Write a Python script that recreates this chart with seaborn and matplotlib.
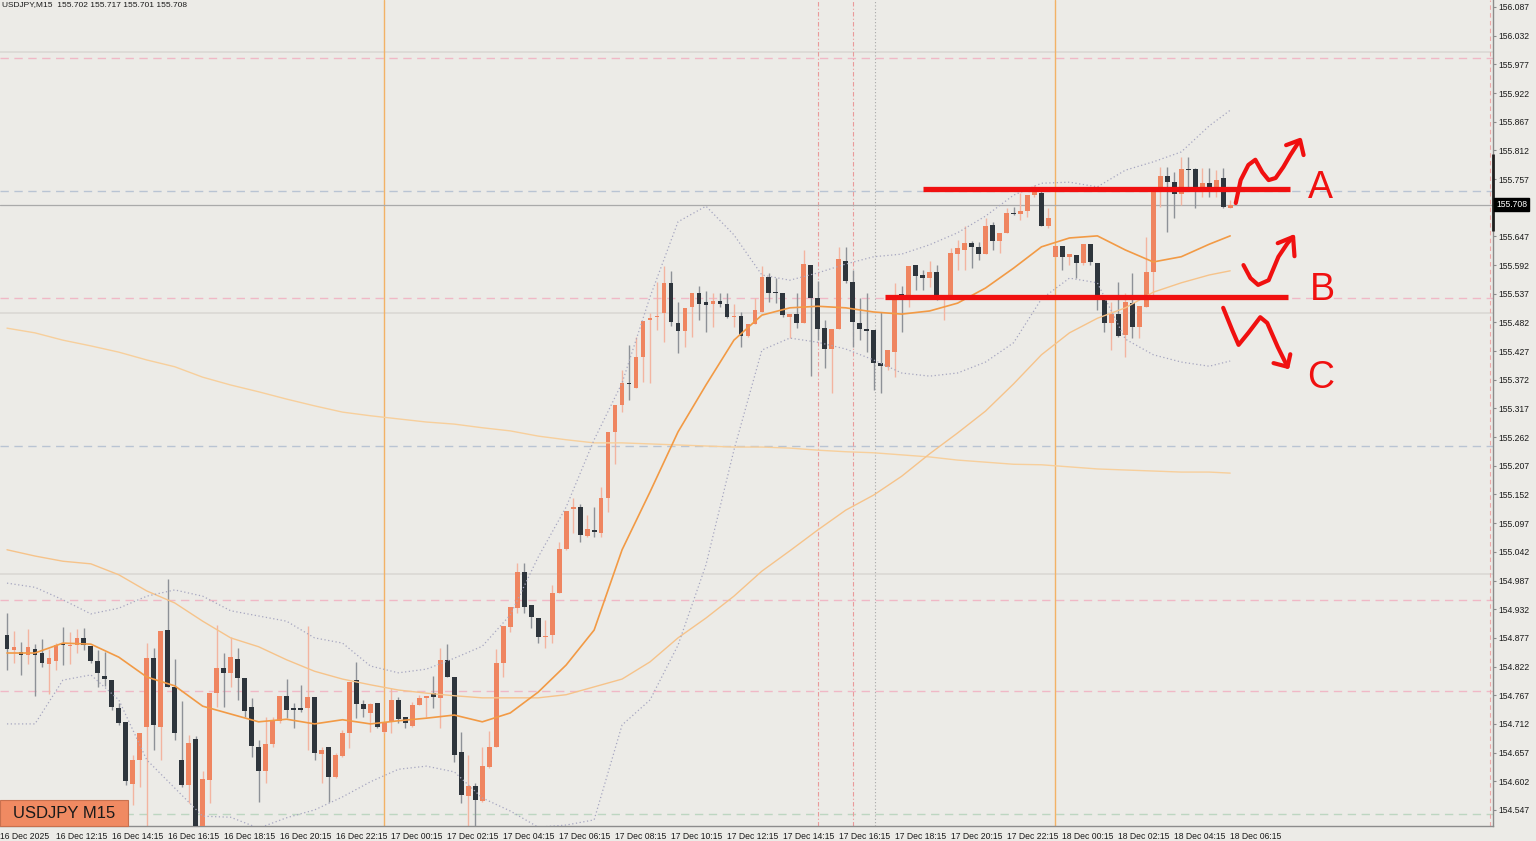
import numpy as np
import pandas as pd
import matplotlib
matplotlib.use("Agg")
import matplotlib.pyplot as plt
from matplotlib.patches import Rectangle
import seaborn as sns


# ---------------------------------------------------------------- data
# USDJPY M15, bar 0 = 16 Dec 10:30, bar 175 = 18 Dec 06:15
opens = [
    154.883, 154.854, 154.850, 154.844, 154.856, 154.848, 154.827, 154.833, 154.863, 154.862,
    154.863, 154.877, 154.861, 154.833, 154.804, 154.796, 154.742, 154.716, 154.597, 154.643,
    154.706, 154.838, 154.706, 154.892, 154.783, 154.643, 154.595, 154.683, 154.514, 154.604,
    154.771, 154.819, 154.810, 154.836, 154.800, 154.744, 154.668, 154.622, 154.673, 154.718,
    154.766, 154.742, 154.742, 154.742, 154.764, 154.654, 154.668, 154.610, 154.650, 154.695,
    154.796, 154.750, 154.733, 154.752, 154.697, 154.716, 154.758, 154.725, 154.708, 154.748,
    154.762, 154.771, 154.762, 154.835, 154.802, 154.658, 154.574, 154.593, 154.564, 154.629,
    154.668, 154.829, 154.898, 154.934, 155.003, 154.940, 154.915, 154.879, 154.883, 154.963,
    155.047, 155.124, 155.128, 155.072, 155.084, 155.078, 155.145, 155.272, 155.324, 155.366,
    155.356, 155.416, 155.487, 155.493, 155.500, 155.558, 155.481, 155.466, 155.512, 155.538,
    155.521, 155.517, 155.523, 155.517, 155.492, 155.494, 155.456, 155.479, 155.502, 155.569,
    155.539, 155.538, 155.492, 155.498, 155.481, 155.592, 155.529, 155.471, 155.431, 155.469,
    155.600, 155.560, 155.481, 155.469, 155.467, 155.404, 155.397, 155.425, 155.537, 155.531,
    155.592, 155.573, 155.567, 155.579, 155.531, 155.531, 155.613, 155.621, 155.634, 155.627,
    155.613, 155.669, 155.638, 155.653, 155.692, 155.690, 155.696, 155.726, 155.730, 155.667,
    155.608, 155.629, 155.608, 155.611, 155.596, 155.632, 155.596, 155.525, 155.481, 155.498,
    155.458, 155.519, 155.473, 155.512, 155.579, 155.738, 155.763, 155.751, 155.728, 155.776,
    155.776, 155.742, 155.749, 155.742, 155.759, 155.702]

highs = [
    154.925, 154.890, 154.869, 154.894, 154.865, 154.875, 154.856, 154.867, 154.898, 154.888,
    154.894, 154.896, 154.861, 154.854, 154.850, 154.796, 154.752, 154.716, 154.652, 154.695,
    154.867, 154.858, 154.890, 154.990, 154.836, 154.756, 154.691, 154.689, 154.622, 154.771,
    154.902, 154.848, 154.879, 154.858, 154.800, 154.762, 154.681, 154.725, 154.725, 154.766,
    154.798, 154.752, 154.787, 154.900, 154.764, 154.668, 154.668, 154.656, 154.700, 154.792,
    154.831, 154.758, 154.752, 154.752, 154.716, 154.781, 154.764, 154.725, 154.754, 154.768,
    154.766, 154.804, 154.858, 154.865, 154.802, 154.697, 154.652, 154.599, 154.668, 154.699,
    154.856, 154.900, 154.936, 155.021, 155.021, 154.940, 154.915, 154.911, 154.978, 155.061,
    155.120, 155.145, 155.134, 155.113, 155.128, 155.166, 155.272, 155.324, 155.391, 155.439,
    155.454, 155.485, 155.500, 155.560, 155.590, 155.581, 155.521, 155.510, 155.538, 155.552,
    155.542, 155.538, 155.538, 155.538, 155.517, 155.502, 155.479, 155.529, 155.590, 155.577,
    155.567, 155.538, 155.498, 155.538, 155.621, 155.592, 155.561, 155.487, 155.469, 155.627,
    155.627, 155.583, 155.529, 155.538, 155.467, 155.502, 155.429, 155.558, 155.552, 155.590,
    155.592, 155.583, 155.600, 155.592, 155.533, 155.625, 155.640, 155.667, 155.638, 155.636,
    155.682, 155.675, 155.653, 155.701, 155.703, 155.730, 155.726, 155.746, 155.736, 155.701,
    155.629, 155.629, 155.613, 155.611, 155.632, 155.632, 155.596, 155.525, 155.521, 155.560,
    155.538, 155.577, 155.513, 155.646, 155.736, 155.780, 155.780, 155.770, 155.799, 155.799,
    155.778, 155.778, 155.778, 155.774, 155.778, 155.717]

lows = [
    154.815, 154.829, 154.806, 154.827, 154.766, 154.821, 154.769, 154.815, 154.825, 154.827,
    154.848, 154.854, 154.829, 154.783, 154.785, 154.739, 154.710, 154.595, 154.556, 154.591,
    154.514, 154.662, 154.643, 154.783, 154.681, 154.591, 154.560, 154.512, 154.512, 154.560,
    154.744, 154.744, 154.783, 154.758, 154.725, 154.648, 154.562, 154.599, 154.668, 154.714,
    154.723, 154.704, 154.735, 154.662, 154.643, 154.599, 154.562, 154.608, 154.648, 154.666,
    154.723, 154.725, 154.697, 154.704, 154.695, 154.695, 154.714, 154.704, 154.706, 154.748,
    154.725, 154.742, 154.704, 154.802, 154.639, 154.560, 154.512, 154.512, 154.562, 154.627,
    154.668, 154.802, 154.888, 154.925, 154.925, 154.896, 154.867, 154.858, 154.867, 154.963,
    155.045, 155.078, 155.061, 155.070, 155.070, 155.070, 155.118, 155.210, 155.310, 155.333,
    155.356, 155.368, 155.366, 155.468, 155.445, 155.475, 155.423, 155.435, 155.454, 155.487,
    155.464, 155.473, 155.512, 155.490, 155.473, 155.435, 155.454, 155.479, 155.502, 155.521,
    155.519, 155.492, 155.452, 155.471, 155.481, 155.379, 155.448, 155.395, 155.347, 155.469,
    155.558, 155.435, 155.448, 155.425, 155.352, 155.347, 155.391, 155.377, 155.464, 155.512,
    155.544, 155.544, 155.550, 155.525, 155.487, 155.531, 155.583, 155.583, 155.586, 155.602,
    155.613, 155.621, 155.615, 155.653, 155.688, 155.679, 155.684, 155.723, 155.667, 155.663,
    155.608, 155.583, 155.592, 155.567, 155.592, 155.592, 155.506, 155.464, 155.429, 155.454,
    155.416, 155.452, 155.452, 155.512, 155.531, 155.703, 155.655, 155.682, 155.707, 155.742,
    155.701, 155.723, 155.723, 155.723, 155.701, 155.701]

closes = [
    154.856, 154.860, 154.844, 154.860, 154.844, 154.829, 154.838, 154.863, 154.863, 154.864,
    154.877, 154.863, 154.833, 154.810, 154.798, 154.744, 154.714, 154.603, 154.643, 154.695,
    154.838, 154.710, 154.890, 154.783, 154.695, 154.595, 154.675, 154.514, 154.606, 154.771,
    154.819, 154.810, 154.840, 154.800, 154.737, 154.670, 154.622, 154.673, 154.718, 154.766,
    154.739, 154.739, 154.739, 154.764, 154.656, 154.662, 154.610, 154.652, 154.695, 154.792,
    154.750, 154.740, 154.750, 154.706, 154.716, 154.758, 154.721, 154.714, 154.748, 154.762,
    154.766, 154.764, 154.835, 154.802, 154.652, 154.576, 154.593, 154.566, 154.631, 154.668,
    154.829, 154.900, 154.936, 155.003, 154.936, 154.917, 154.879, 154.881, 154.963, 155.047,
    155.120, 155.128, 155.074, 155.086, 155.080, 155.145, 155.272, 155.324, 155.366, 155.364,
    155.416, 155.485, 155.491, 155.494, 155.558, 155.483, 155.466, 155.510, 155.538, 155.517,
    155.516, 155.523, 155.517, 155.492, 155.494, 155.456, 155.479, 155.506, 155.569, 155.538,
    155.538, 155.496, 155.498, 155.481, 155.594, 155.529, 155.469, 155.431, 155.469, 155.604,
    155.561, 155.483, 155.469, 155.466, 155.404, 155.398, 155.429, 155.531, 155.531, 155.590,
    155.571, 155.567, 155.579, 155.531, 155.533, 155.615, 155.625, 155.634, 155.627, 155.613,
    155.667, 155.638, 155.653, 155.692, 155.690, 155.696, 155.726, 155.736, 155.667, 155.682,
    155.629, 155.608, 155.613, 155.596, 155.632, 155.598, 155.531, 155.481, 155.498, 155.456,
    155.521, 155.473, 155.513, 155.579, 155.736, 155.763, 155.751, 155.728, 155.776, 155.774,
    155.742, 155.749, 155.742, 155.755, 155.703, 155.708]

# indicator lines, read every 4th bar
ma_bars = list(range(0, 173, 4)) + [175]
ma20 = [
    154.848, 154.848, 154.867, 154.865, 154.840, 154.802, 154.785, 154.746, 154.731, 154.716,
    154.721, 154.712, 154.720, 154.712, 154.718, 154.723, 154.729, 154.716, 154.733, 154.773,
    154.825, 154.892, 155.046, 155.157, 155.272, 155.362, 155.448, 155.496, 155.510, 155.513,
    155.510, 155.502, 155.498, 155.504, 155.519, 155.548, 155.586, 155.627, 155.644, 155.648,
    155.621, 155.598, 155.608, 155.632, 155.648]
bb_upper = [
    154.982, 154.974, 154.950, 154.923, 154.934, 154.957, 154.969, 154.957, 154.929, 154.919,
    154.909, 154.877, 154.867, 154.823, 154.810, 154.817, 154.838, 154.861, 154.921, 155.032,
    155.128, 155.257, 155.366, 155.531, 155.675, 155.705, 155.650, 155.573, 155.563, 155.577,
    155.594, 155.608, 155.613, 155.631, 155.654, 155.686, 155.726, 155.749, 155.751, 155.742,
    155.774, 155.790, 155.809, 155.859, 155.889]
bb_lower = [
    154.712, 154.712, 154.796, 154.806, 154.758, 154.643, 154.589, 154.535, 154.533, 154.512,
    154.532, 154.547, 154.572, 154.601, 154.625, 154.631, 154.620, 154.570, 154.545, 154.514,
    154.518, 154.528, 154.710, 154.758, 154.863, 155.017, 155.237, 155.429, 155.452, 155.444,
    155.431, 155.410, 155.385, 155.379, 155.385, 155.406, 155.443, 155.527, 155.567, 155.558,
    155.450, 155.420, 155.406, 155.398, 155.408]
ma50 = [
    155.046, 155.034, 155.024, 155.019, 154.998, 154.967, 154.944, 154.909, 154.877, 154.860,
    154.835, 154.813, 154.798, 154.787, 154.777, 154.771, 154.766, 154.762, 154.762, 154.762,
    154.768, 154.783, 154.798, 154.831, 154.877, 154.915, 154.957, 155.005, 155.044, 155.084,
    155.122, 155.151, 155.187, 155.230, 155.270, 155.312, 155.364, 155.420, 155.462, 155.490,
    155.510, 155.540, 155.558, 155.573, 155.581]
ma200 = [
    155.471, 155.462, 155.448, 155.437, 155.425, 155.410, 155.397, 155.377, 155.362, 155.349,
    155.335, 155.322, 155.310, 155.303, 155.297, 155.291, 155.287, 155.280, 155.274, 155.264,
    155.257, 155.251, 155.251, 155.249, 155.247, 155.245, 155.243, 155.243, 155.241, 155.237,
    155.234, 155.232, 155.228, 155.224, 155.218, 155.214, 155.210, 155.209, 155.205, 155.201,
    155.199, 155.197, 155.195, 155.195, 155.193]

# horizontal / vertical chart objects
round_levels = [156.000, 155.500, 155.000]
pink_levels = [155.989, 155.529, 154.950, 154.775]
blue_levels = [155.734, 155.245]
green_levels = [154.539]
day_bars = [54, 150]
red_vbars = [116.1, 121.1]
gray_vbars = [124.2]
range_marker = (155.805, 155.657)  # dark range bar on the price scale edge

# hand drawn trade idea: levels and squiggles (bar, price)
level_a = (131.0, 183.6, 155.737)
level_b = (125.6, 183.2, 155.530)
path_a_x = [175.8, 176.5, 177.6, 178.6, 179.6, 180.5, 181.5, 182.6, 183.6, 184.9]
path_a_y = [155.711, 155.755, 155.784, 155.794, 155.770, 155.755, 155.759, 155.780, 155.803, 155.830]
head_a_x = [183.0, 185.0, 185.5]
head_a_y = [155.822, 155.832, 155.803]
path_b_x = [176.9, 177.9, 179.0, 180.5, 181.9, 183.2, 184.0]
path_b_y = [155.592, 155.567, 155.554, 155.563, 155.608, 155.634, 155.646]
head_b_x = [181.8, 184.0, 184.2]
head_b_y = [155.634, 155.646, 155.609]
path_c_x = [174.0, 175.3, 176.2, 177.6, 179.3, 180.3, 181.8, 183.2]
path_c_y = [155.510, 155.467, 155.439, 155.462, 155.492, 155.481, 155.435, 155.397]
head_c_x = [181.2, 183.2, 183.6]
head_c_y = [155.404, 155.397, 155.421]
letters = ["A", "B", "C"]
letter_x = [187.9, 188.2, 187.9]
letter_y = [155.740, 155.544, 155.375]

time_label_bars = [-1, 7, 15, 23, 31, 39, 47, 55, 63, 71, 79, 87, 95, 103, 111, 119, 127,
                   135, 143, 151, 159, 167, 175]
time_labels = ["16 Dec 2025", "16 Dec 12:15", "16 Dec 14:15", "16 Dec 16:15", "16 Dec 18:15",
               "16 Dec 20:15", "16 Dec 22:15", "17 Dec 00:15", "17 Dec 02:15", "17 Dec 04:15",
               "17 Dec 06:15", "17 Dec 08:15", "17 Dec 10:15", "17 Dec 12:15", "17 Dec 14:15",
               "17 Dec 16:15", "17 Dec 18:15", "17 Dec 20:15", "17 Dec 22:15", "18 Dec 00:15",
               "18 Dec 02:15", "18 Dec 04:15", "18 Dec 06:15"]
price_ticks = [156.087, 156.032, 155.977, 155.922, 155.867, 155.812, 155.757, 155.702,
               155.647, 155.592, 155.537, 155.482, 155.427, 155.372, 155.317, 155.262,
               155.207, 155.152, 155.097, 155.042, 154.987, 154.932, 154.877, 154.822,
               154.767, 154.712, 154.657, 154.602, 154.547]


# ---------------------------------------------------------------- style
BG = "#ecebe7"
BULL = "#ef8560"
BEAR = "#2e353c"
BULL_WICK = "#f3b4a0"
BEAR_WICK = "#8d9197"
RED = "#f01010"

sns.set_style("white")
plt.rcParams["font.family"] = ["Liberation Sans", "DejaVu Sans"]

fig = plt.figure(figsize=(15.36, 8.41), dpi=100, facecolor=BG)
ax = fig.add_axes([0, 15 / 841, 1493 / 1536, 826 / 841])
ax.set_facecolor(BG)

bars = pd.DataFrame({"o": opens, "h": highs, "l": lows, "c": closes})
bars["x"] = np.arange(len(bars))
bull = bars["c"] > bars["o"]

# chart objects behind the candles
for lv in round_levels:
    ax.axhline(lv, color="#dcdad6", lw=1.3, zorder=0)
for lv in pink_levels:
    ax.axhline(lv, color="#f0b8c6", lw=1.0, ls=(0, (6, 4)), zorder=0)
for lv in blue_levels:
    ax.axhline(lv, color="#b9c4d3", lw=1.0, ls=(0, (6, 4)), zorder=0)
for lv in green_levels:
    ax.axhline(lv, color="#bdd6c1", lw=1.0, ls=(0, (6, 4)), zorder=0)
for b in day_bars:
    ax.axvline(b, color="#f2b266", lw=1.0, zorder=0)
for b in red_vbars:
    ax.axvline(b, color="#ea9a9a", lw=0.8, ls=(0, (4, 2, 1, 2)), zorder=0)
for b in gray_vbars:
    ax.axvline(b, color="#a8a8a8", lw=0.8, ls=(0, (1, 2)), zorder=0)
ax.axvline(212.2, color="#f0a8a8", lw=0.8, ls=(0, (4, 3)), zorder=0)
ax.axhline(closes[-1], color="#aaaaaa", lw=0.9, zorder=1)

# candles
ax.vlines(bars["x"], bars["l"], bars["h"],
          colors=np.where(bull, BULL_WICK, BEAR_WICK), lw=1.0, zorder=2)
body_lo = bars[["o", "c"]].min(axis=1)
body_h = (bars["c"] - bars["o"]).abs().clip(lower=0.0022)
ax.bar(bars["x"], body_h, bottom=body_lo, width=0.68,
       color=np.where(bull, BULL, BEAR), linewidth=0, zorder=3)

# indicators
ind = pd.DataFrame({"bar": ma_bars, "ma20": ma20, "up": bb_upper, "lo": bb_lower,
                    "ma50": ma50, "ma200": ma200})
sns.lineplot(data=ind, x="bar", y="ma200", color="#f7cf9c", lw=1.0, ax=ax, zorder=4)
sns.lineplot(data=ind, x="bar", y="ma50", color="#f6c38a", lw=1.0, ax=ax, zorder=4)
sns.lineplot(data=ind, x="bar", y="up", color="#a6a6c0", lw=0.9, ls=(0, (1, 2)), ax=ax, zorder=4)
sns.lineplot(data=ind, x="bar", y="lo", color="#a6a6c0", lw=0.9, ls=(0, (1, 2)), ax=ax, zorder=4)
sns.lineplot(data=ind, x="bar", y="ma20", color="#f29a45", lw=1.2, ax=ax, zorder=5)

# hand drawn levels and scenarios
for x0, x1, lv in (level_a, level_b):
    ax.hlines(lv, x0, x1, color=RED, lw=3.8, zorder=6)
for px, py in ((path_a_x, path_a_y), (head_a_x, head_a_y), (path_b_x, path_b_y),
               (head_b_x, head_b_y), (path_c_x, path_c_y), (head_c_x, head_c_y)):
    ax.plot(px, py, color=RED, lw=3.0, solid_capstyle="round",
            solid_joinstyle="round", zorder=7)
for t, lx, ly in zip(letters, letter_x, letter_y):
    ax.text(lx, ly, t, color=RED, fontsize=27, ha="center", va="center", zorder=7)

# axes
ax.set_xlim(-0.671, 212.6)
ax.set_ylim(154.5162, 156.1004)
ax.set_xlabel("")
ax.set_ylabel("")
for side in ("top", "left"):
    ax.spines[side].set_visible(False)
for side in ("right", "bottom"):
    ax.spines[side].set_color("#8c8c8c")
    ax.spines[side].set_linewidth(1.0)
ax.vlines(1.0, range_marker[1], range_marker[0], transform=ax.get_yaxis_transform(),
          color="#202020", lw=2.0, zorder=9, clip_on=False)

# price scale; the tick under the live price tag carries no label (hidden in the chart)
ax.yaxis.tick_right()
ax.set_yticks(price_ticks)
ax.set_yticklabels(["" if abs(p - closes[-1]) < 0.01 else f"{p:.3f}" for p in price_ticks])
ax.tick_params(axis="y", direction="out", length=2.5, width=0.8, color="#8c8c8c",
               pad=1.5, labelsize=6.2, labelcolor="#1a1a1a")

ax.set_xticks(time_label_bars)
ax.set_xticklabels(time_labels, ha="left")
ax.tick_params(axis="x", direction="out", length=3, width=0.8, color="#8c8c8c",
               pad=1.0, labelsize=6.2, labelcolor="#1a1a1a")

# current price tag
ax.annotate(f"{closes[-1]:.3f}", xy=(1.0, closes[-1]), xycoords=("axes fraction", "data"),
            xytext=(2.2, 0), textcoords="offset points", ha="left", va="center",
            fontsize=6.2, color="white", annotation_clip=False, zorder=10,
            bbox=dict(boxstyle="square,pad=0.25", fc="black", ec="black"))

# header and symbol box
fig.text(2 / 1536, 1 - 1 / 841, "USDJPY,M15  155.702 155.717 155.701 155.708",
         fontsize=6.0, color="#1a1a1a", ha="left", va="top")
fig.patches.append(Rectangle((0, 15 / 841), 128 / 1536, 26 / 841, transform=fig.transFigure,
                             fc="#f08a62", ec="#c8704e", lw=0.8, zorder=20))
fig.text(13 / 1536, 28 / 841, "USDJPY M15", fontsize=12, color="#1a1a1a",
         ha="left", va="center", zorder=21)

fig.savefig("out.png", dpi=100, facecolor=BG)
